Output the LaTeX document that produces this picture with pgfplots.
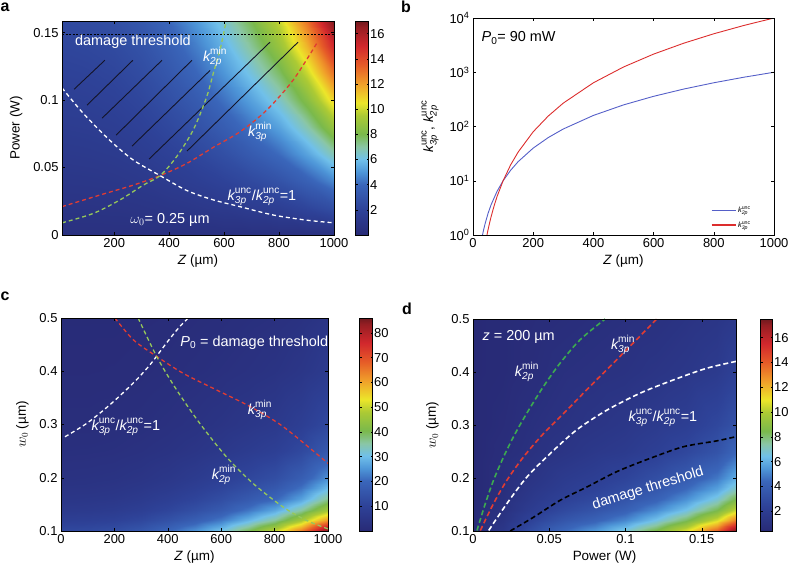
\documentclass[border=0pt]{standalone}
\usepackage{amsmath}
\usepackage{fontspec}
\setmainfont{Liberation Sans}
\usepackage{pgfplots}
\pgfplotsset{compat=1.18}
\newcommand{\kk}[2]{$\textit{k}^{\text{#2}}_{\text{\itshape #1}}$}
\definecolor{lgreen}{RGB}{150,200,90}
\definecolor{dred}{RGB}{225,60,50}
\definecolor{bline}{RGB}{85,95,200}
\definecolor{rline}{RGB}{220,45,45}
\definecolor{hatch}{RGB}{20,20,40}
\definecolor{dgreen}{RGB}{60,170,80}
\tikzset{ann/.style={white, font=\fontsize{14.5}{16}\selectfont}}
\pgfplotsset{
 colormap={mjet}{rgb255(0pt)=(40,42,118); rgb255(20pt)=(46,66,152); rgb255(40pt)=(58,102,186); rgb255(50pt)=(78,150,216); rgb255(60pt)=(112,192,234); rgb255(70pt)=(138,198,165); rgb255(80pt)=(122,185,76); rgb255(95pt)=(172,202,52); rgb255(105pt)=(236,230,42); rgb255(120pt)=(240,160,42); rgb255(135pt)=(230,92,40); rgb255(150pt)=(210,40,45); rgb255(165pt)=(150,30,35); rgb255(170pt)=(112,25,30)},
 base/.style={scale only axis, axis on top, clip=true,
  tick align=inside, major tick length=3bp, tick style={black, line width=0.4pt},
  axis line style={line width=0.5pt},
  tick label style={font=\fontsize{13}{15}\selectfont},
  label style={font=\fontsize{13.5}{15}\selectfont},
  /pgf/number format/assume math mode=true,
  /pgf/number format/fixed,
  /pgf/number format/1000 sep={},
  scaled ticks=false},
 cbar/.style={colorbar, colorbar style={scale only axis, width=13bp,
  at={(parent axis.north east)}, anchor=north west, xshift=#1,
  tick align=inside, major tick length=2bp,
  tick label style={font=\fontsize{13}{15}\selectfont},
  yticklabel style={inner xsep=1.5bp},
  /pgf/number format/assume math mode=true}},
}
\begin{document}
\begin{tikzpicture}
\useasboundingbox (0,0) rectangle (788bp,573bp);
% ---------------- panel a
\begin{axis}[base, at={(62bp,338bp)}, anchor=south west, width=272bp, height=214bp,
 xmin=10, xmax=1000, ymin=0, ymax=0.1586,
 xtick={200,400,600,800,1000}, ytick={0,0.05,0.1,0.15},
 xlabel={\textit{Z} (µm)}, ylabel={Power (W)}, ylabel shift=4bp,
 colormap name=mjet, point meta min=0, point meta max=17,
 cbar=13bp, colorbar style={ytick={2,4,...,16}}]
\addplot[surf, shader=interp, mesh/cols=11, point meta=explicit] coordinates {
(10,0)[0.6] (100,0)[0.6] (200,0)[0.6] (300,0)[0.6] (400,0)[0.6] (500,0)[0.6] (600,0)[0.6] (700,0)[0.6] (800,0)[0.6] (900,0)[0.6] (1000,0)[0.6]
(10,0.02)[0.83] (100,0.02)[0.84] (200,0.02)[0.87] (300,0.02)[0.93] (400,0.02)[1.03] (500,0.02)[1.16] (600,0.02)[1.31] (700,0.02)[1.51] (800,0.02)[1.72] (900,0.02)[2.15] (1000,0.02)[2.68]
(10,0.04)[1.06] (100,0.04)[1.08] (200,0.04)[1.13] (300,0.04)[1.26] (400,0.04)[1.46] (500,0.04)[1.71] (600,0.04)[2.02] (700,0.04)[2.42] (800,0.04)[2.90] (900,0.04)[3.70] (1000,0.04)[4.75]
(10,0.06)[1.28] (100,0.06)[1.32] (200,0.06)[1.40] (300,0.06)[1.59] (400,0.06)[1.89] (500,0.06)[2.27] (600,0.06)[2.73] (700,0.06)[3.40] (800,0.06)[4.10] (900,0.06)[5.30] (1000,0.06)[6.83]
(10,0.08)[1.51] (100,0.08)[1.56] (200,0.08)[1.66] (300,0.08)[1.92] (400,0.08)[2.32] (500,0.08)[2.83] (600,0.08)[3.50] (700,0.08)[4.35] (800,0.08)[5.30] (900,0.08)[6.85] (1000,0.08)[8.90]
(10,0.10)[1.74] (100,0.10)[1.80] (200,0.10)[1.93] (300,0.10)[2.25] (400,0.10)[2.75] (500,0.10)[3.39] (600,0.10)[4.25] (700,0.10)[5.30] (800,0.10)[6.50] (900,0.10)[8.40] (1000,0.10)[10.98]
(10,0.12)[1.97] (100,0.12)[2.04] (200,0.12)[2.19] (300,0.12)[2.57] (400,0.12)[3.18] (500,0.12)[4.00] (600,0.12)[5.00] (700,0.12)[6.25] (800,0.12)[7.70] (900,0.12)[9.95] (1000,0.12)[13.05]
(10,0.14)[2.19] (100,0.14)[2.28] (200,0.14)[2.46] (300,0.14)[2.90] (400,0.14)[3.61] (500,0.14)[4.55] (600,0.14)[5.70] (700,0.14)[7.20] (800,0.14)[8.90] (900,0.14)[11.6] (1000,0.14)[15.13]
(10,0.1586)[2.4] (100,0.1586)[2.5] (200,0.1586)[2.7] (300,0.1586)[3.2] (400,0.1586)[4.0] (500,0.1586)[5.1] (600,0.1586)[6.4] (700,0.1586)[8.0] (800,0.1586)[9.9] (900,0.1586)[13.0] (1000,0.1586)[17.0]
};
\addplot[black, dash pattern=on 2bp off 1.5bp, line width=0.8pt] coordinates {(10,0.149) (1000,0.149)};
\addplot[hatch, line width=0.9pt] coordinates {(54,0.108) (166,0.1295)};
\addplot[hatch, line width=0.9pt] coordinates {(101,0.0962) (268,0.1295)};
\addplot[hatch, line width=0.9pt] coordinates {(156,0.0866) (374,0.1295)};
\addplot[hatch, line width=0.9pt] coordinates {(207,0.074) (483,0.1295)};
\addplot[hatch, line width=0.9pt] coordinates {(265,0.0659) (549,0.122)};
\addplot[hatch, line width=0.9pt] coordinates {(327,0.0563) (767,0.1429)};
\addplot[hatch, line width=0.9pt] coordinates {(465,0.0622) (869,0.1429)};
\addplot[white, dash pattern=on 4bp off 3bp, line width=1.3pt, smooth] coordinates {(10,0.109) (88,0.090) (185,0.070) (270,0.0555) (367,0.044) (464,0.033) (561,0.026) (658,0.021) (779,0.0148) (900,0.011) (1000,0.009)};
\addplot[dred, dash pattern=on 4bp off 3bp, line width=1.3pt, smooth] coordinates {(10,0.021) (148,0.0296) (270,0.037) (367,0.044) (464,0.053) (561,0.065) (658,0.0765) (755,0.0925) (852,0.115) (937,0.142)};
\addplot[lgreen, dash pattern=on 4bp off 3bp, line width=1.3pt, smooth] coordinates {(10,0.009) (124,0.016) (221,0.026) (306,0.037) (367,0.044) (427,0.058) (488,0.078) (536,0.102) (561,0.120) (585,0.137) (603,0.154) (608,0.1586)};
\node[ann, anchor=west] at (axis cs:45,0.1429) {damage threshold};
\node[ann] at (axis cs:567,0.1318) {\kk{2p}{min}};
\node[ann] at (axis cs:731,0.0762) {\kk{3p}{min}};
\node[ann] at (axis cs:738,0.0281) {\kk{3p}{unc}/\kk{2p}{unc}=1};
\node[ann] at (axis cs:403,0.0111) {$\omega_0$= 0.25 µm};
\end{axis}
% ---------------- panel b
\begin{axis}[base, at={(473bp,338bp)}, anchor=south west, width=301bp, height=217bp,
 xmin=0, xmax=1000, ymode=log, ymin=1, ymax=10000,
 xtick={0,200,400,600,800,1000}, ytick={1,10,100,1000,10000},
 yticklabels={10\textsuperscript{0},10\textsuperscript{1},10\textsuperscript{2},10\textsuperscript{3},10\textsuperscript{4}},
 yminorticks=false,
 xlabel={\textit{Z} (µm)}, ylabel={\kk{3p}{unc}, \kk{2p}{unc}}, ylabel shift=4bp,
 legend style={draw=none, fill=none, font=\fontsize{7.5}{8}\selectfont, at={(0.94,0.01)}, anchor=south east, legend cell align=left, row sep=3bp},
 legend image code/.code={\draw[#1] (0bp,0bp) -- (24bp,0bp);}]
\addlegendimage{draw=bline, line width=1.2pt}
\addlegendentry{\kk{2p}{unc}}
\addlegendimage{draw=rline, line width=1.2pt}
\addlegendentry{\kk{3p}{unc}}
\addplot[bline, line width=0.9pt, forget plot] coordinates {(31.6,1) (35,1.23) (40,1.6) (50,2.5) (60,3.6) (80,6.4) (100,10) (125,15.6) (150,22.5) (200,40) (250,62.5) (300,90) (400,160) (500,250) (600,360) (700,490) (800,640) (900,810) (1000,1000)};
\addplot[rline, line width=0.9pt, forget plot] coordinates {(46.4,1) (50,1.25) (55,1.66) (60,2.16) (70,3.43) (80,5.13) (100,10) (125,19.6) (150,33.8) (200,80) (250,156) (300,270) (400,640) (500,1250) (600,2160) (700,3430) (800,5120) (900,7290) (1000,10000)};
\node[anchor=west, font=\fontsize{14.5}{16}\selectfont] at (axis cs:17,4270) {\textit{P}\textsubscript{0}= 90 mW};
\end{axis}
% ---------------- panel c
\begin{axis}[base, at={(61bp,42bp)}, anchor=south west, width=267bp, height=213bp,
 xmin=0, xmax=1000, ymin=0.1, ymax=0.5,
 xtick={0,200,400,600,800,1000}, ytick={0.1,0.2,0.3,0.4,0.5},
 xlabel={\textit{Z} (µm)}, ylabel={$w_0$ (µm)}, ylabel shift=4bp,
 colormap name=mjet, point meta min=0, point meta max=86,
 cbar=23bp, colorbar style={ytick={10,20,...,80}}]
\addplot[surf, shader=interp, mesh/cols=11, point meta=explicit] coordinates {
(0,0.1)[12] (100,0.1)[12.5] (200,0.1)[13.5] (300,0.1)[16] (400,0.1)[20] (500,0.1)[25] (600,0.1)[31] (700,0.1)[40] (800,0.1)[50] (900,0.1)[65] (1000,0.1)[86]
(0,0.12)[8.6] (100,0.12)[9.0] (200,0.12)[9.7] (300,0.12)[11.5] (400,0.12)[14.4] (500,0.12)[18.0] (600,0.12)[22.3] (700,0.12)[28.8] (800,0.12)[36.0] (900,0.12)[46.8] (1000,0.12)[61.9]
(0,0.14)[6.6] (100,0.14)[6.8] (200,0.14)[7.4] (300,0.14)[8.7] (400,0.14)[10.9] (500,0.14)[13.7] (600,0.14)[16.9] (700,0.14)[21.8] (800,0.14)[27.3] (900,0.14)[35.5] (1000,0.14)[47.0]
(0,0.16)[5.1] (100,0.16)[5.4] (200,0.16)[5.8] (300,0.16)[6.9] (400,0.16)[8.6] (500,0.16)[10.7] (600,0.16)[13.3] (700,0.16)[16.7] (800,0.16)[20.2] (900,0.16)[26.6] (1000,0.16)[36.9]
(0,0.18)[4.2] (100,0.18)[4.3] (200,0.18)[4.7] (300,0.18)[5.6] (400,0.18)[6.9] (500,0.18)[8.7] (600,0.18)[10.8] (700,0.18)[13.5] (800,0.18)[16.3] (900,0.18)[21.5] (1000,0.18)[29.8]
(0,0.2)[3.4] (100,0.2)[3.6] (200,0.2)[3.9] (300,0.2)[4.6] (400,0.2)[5.7] (500,0.2)[7.2] (600,0.2)[8.9] (700,0.2)[11.2] (800,0.2)[13.5] (900,0.2)[17.8] (1000,0.2)[24.7]
(0,0.25)[2.3] (100,0.25)[2.4] (200,0.25)[2.6] (300,0.25)[3.1] (400,0.25)[3.8] (500,0.25)[4.8] (600,0.25)[6.0] (700,0.25)[7.5] (800,0.25)[9.0] (900,0.25)[11.9] (1000,0.25)[16.5]
(0,0.3)[1.7] (100,0.3)[1.7] (200,0.3)[1.9] (300,0.3)[2.2] (400,0.3)[2.8] (500,0.3)[3.5] (600,0.3)[4.3] (700,0.3)[5.4] (800,0.3)[6.5] (900,0.3)[8.6] (1000,0.3)[11.9]
(0,0.4)[1.0] (100,0.4)[1.0] (200,0.4)[1.1] (300,0.4)[1.3] (400,0.4)[1.7] (500,0.4)[2.1] (600,0.4)[2.6] (700,0.4)[3.2] (800,0.4)[3.9] (900,0.4)[5.1] (1000,0.4)[7.1]
(0,0.5)[0.7] (100,0.5)[0.7] (200,0.5)[0.7] (300,0.5)[0.9] (400,0.5)[1.1] (500,0.5)[1.4] (600,0.5)[1.7] (700,0.5)[2.2] (800,0.5)[2.6] (900,0.5)[3.4] (1000,0.5)[4.7]
};
\addplot[white, dash pattern=on 4bp off 3bp, line width=1.3pt, smooth] coordinates {(15,0.277) (96,0.302) (183,0.337) (271,0.378) (333,0.412) (395,0.453) (445,0.484) (483,0.503)};
\addplot[dred, dash pattern=on 4bp off 3bp, line width=1.3pt, smooth] coordinates {(202,0.5) (271,0.459) (358,0.428) (458,0.396) (582,0.365) (707,0.334) (832,0.296) (1000,0.227)};
\addplot[lgreen, dash pattern=on 4bp off 3bp, line width=1.3pt, smooth] coordinates {(289,0.5) (358,0.428) (433,0.365) (520,0.302) (620,0.239) (720,0.189) (832,0.145) (919,0.120) (1000,0.104)};
\node[ann, anchor=west] at (axis cs:434,0.453) {\textit{P}\textsubscript{0} = damage threshold};
\node[ann] at (axis cs:243,0.295) {\kk{3p}{unc}/\kk{2p}{unc}=1};
\node[ann] at (axis cs:745,0.327) {\kk{3p}{min}};
\node[ann] at (axis cs:610,0.205) {\kk{2p}{min}};
\end{axis}
% ---------------- panel d
\begin{axis}[base, at={(473bp,42bp)}, anchor=south west, width=263bp, height=212bp,
 xmin=0, xmax=0.1725, ymin=0.1, ymax=0.5,
 xtick={0,0.05,0.1,0.15}, ytick={0.1,0.2,0.3,0.4,0.5},
 xlabel={Power (W)}, ylabel={$w_0$ (µm)}, ylabel shift=6bp,
 colormap name=mjet, point meta min=0.4, point meta max=17.5,
 cbar=16bp, colorbar style={width=12bp, ytick={2,4,...,16}}]
\addplot[surf, shader=interp, mesh/cols=10, point meta=explicit] coordinates {
(0,0.1)[0.5] (0.02,0.1)[1.5] (0.04,0.1)[3.2] (0.06,0.1)[4.5] (0.08,0.1)[5.5] (0.10,0.1)[6.8] (0.12,0.1)[8.6] (0.14,0.1)[10.8] (0.16,0.1)[14.0] (0.1725,0.1)[17.5]
(0,0.12)[0.5] (0.02,0.12)[1.2] (0.04,0.12)[2.5] (0.06,0.12)[3.5] (0.08,0.12)[4.2] (0.10,0.12)[5.1] (0.12,0.12)[6.5] (0.14,0.12)[8.2] (0.16,0.12)[10.6] (0.1725,0.12)[13.2]
(0,0.14)[0.5] (0.02,0.14)[1.0] (0.04,0.14)[2.0] (0.06,0.14)[2.8] (0.08,0.14)[3.4] (0.10,0.14)[4.1] (0.12,0.14)[5.2] (0.14,0.14)[6.5] (0.16,0.14)[8.4] (0.1725,0.14)[10.4]
(0,0.16)[0.4] (0.02,0.16)[0.9] (0.04,0.16)[1.7] (0.06,0.16)[2.3] (0.08,0.16)[2.8] (0.10,0.16)[3.4] (0.12,0.16)[4.2] (0.14,0.16)[5.3] (0.16,0.16)[6.8] (0.1725,0.16)[8.5]
(0,0.18)[0.4] (0.02,0.18)[0.8] (0.04,0.18)[1.5] (0.06,0.18)[2.0] (0.08,0.18)[2.4] (0.10,0.18)[2.9] (0.12,0.18)[3.6] (0.14,0.18)[4.5] (0.16,0.18)[5.7] (0.1725,0.18)[7.1]
(0,0.2)[0.4] (0.02,0.2)[0.8] (0.04,0.2)[1.3] (0.06,0.2)[1.8] (0.08,0.2)[2.1] (0.10,0.2)[2.5] (0.12,0.2)[3.1] (0.14,0.2)[3.8] (0.16,0.2)[4.8] (0.1725,0.2)[6.0]
(0,0.25)[0.4] (0.02,0.25)[0.7] (0.04,0.25)[1.0] (0.06,0.25)[1.3] (0.08,0.25)[1.6] (0.10,0.25)[1.8] (0.12,0.25)[2.2] (0.14,0.25)[2.7] (0.16,0.25)[3.4] (0.1725,0.25)[4.4]
(0,0.3)[0.4] (0.02,0.3)[0.6] (0.04,0.3)[0.9] (0.06,0.3)[1.1] (0.08,0.3)[1.3] (0.10,0.3)[1.5] (0.12,0.3)[1.8] (0.14,0.3)[2.1] (0.16,0.3)[2.7] (0.1725,0.3)[3.3]
(0,0.4)[0.4] (0.02,0.4)[0.5] (0.04,0.4)[0.7] (0.06,0.4)[0.9] (0.08,0.4)[1.0] (0.10,0.4)[1.1] (0.12,0.4)[1.3] (0.14,0.4)[1.5] (0.16,0.4)[1.8] (0.1725,0.4)[2.3]
(0,0.5)[0.4] (0.02,0.5)[0.5] (0.04,0.5)[0.6] (0.06,0.5)[0.7] (0.08,0.5)[0.8] (0.10,0.5)[0.9] (0.12,0.5)[1.0] (0.14,0.5)[1.2] (0.16,0.5)[1.4] (0.1725,0.5)[1.7]
};
\addplot[black, dash pattern=on 5bp off 3bp, line width=1.6pt, smooth] coordinates {(0.0244,0.1) (0.0397,0.126) (0.0572,0.158) (0.0747,0.183) (0.0943,0.212) (0.1161,0.237) (0.138,0.259) (0.1598,0.270) (0.1725,0.278)};
\addplot[white, dash pattern=on 5bp off 3bp, line width=1.6pt, smooth] coordinates {(0.0103,0.101) (0.0223,0.152) (0.0354,0.202) (0.0506,0.246) (0.0681,0.291) (0.0878,0.328) (0.1096,0.360) (0.1314,0.385) (0.1532,0.407) (0.1725,0.420)};
\addplot[dred, dash pattern=on 5bp off 3bp, line width=1.6pt, smooth] coordinates {(0.0048,0.101) (0.0135,0.152) (0.0223,0.196) (0.0332,0.240) (0.0463,0.284) (0.0616,0.328) (0.0768,0.373) (0.0921,0.417) (0.1052,0.455) (0.1205,0.5)};
\addplot[dgreen, dash pattern=on 5bp off 3bp, line width=1.6pt, smooth] coordinates {(0.0026,0.101) (0.0081,0.152) (0.0135,0.196) (0.0201,0.240) (0.0277,0.284) (0.0365,0.328) (0.0463,0.373) (0.0572,0.417) (0.0703,0.461) (0.0867,0.5)};
\node[ann, anchor=west] at (axis cs:0.004,0.466) {\textit{z} = 200 µm};
\node[ann] at (axis cs:0.0354,0.40) {\kk{2p}{min}};
\node[ann] at (axis cs:0.0984,0.451) {\kk{3p}{min}};
\node[ann] at (axis cs:0.1246,0.313) {\kk{3p}{unc}/\kk{2p}{unc}=1};
\node[ann, rotate=17] at (axis cs:0.1148,0.180) {damage threshold};
\end{axis}
% panel letters
\node[font=\bfseries\fontsize{16}{16}\selectfont] at (5bp,566bp) {a};
\node[font=\bfseries\fontsize{16}{16}\selectfont] at (406bp,566bp) {b};
\node[font=\bfseries\fontsize{16}{16}\selectfont] at (5bp,277bp) {c};
\node[font=\bfseries\fontsize{16}{16}\selectfont] at (407bp,264bp) {d};
\end{tikzpicture}
\end{document}
